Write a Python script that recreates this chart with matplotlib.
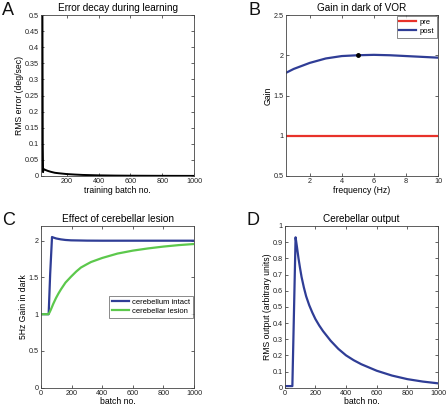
import matplotlib
matplotlib.use("Agg")
import matplotlib.pyplot as plt
from matplotlib.ticker import FormatStrFormatter

plt.rcParams['font.family'] = ['Liberation Sans', 'DejaVu Sans']

# A: error decay
err_x = [47, 49, 51, 53, 57, 65, 80, 100, 125, 150, 200, 250, 300, 400, 500, 600, 800, 1000]
err_y = [0.5, 0.1, 0.012, 0.022, 0.021, 0.019, 0.016, 0.013, 0.010, 0.0085, 0.006,
         0.0045, 0.0033, 0.002, 0.0013, 0.0009, 0.0005, 0.0003]

# B: gain in dark vs frequency
freq = [0.5, 1, 2, 3, 4, 5, 6, 7, 8, 9, 10]
gain_pre = [1.0] * len(freq)
gain_post = [1.78, 1.83, 1.905, 1.96, 1.99, 2.0, 2.005, 2.0, 1.99, 1.98, 1.97]
probe_freq = [5]
probe_gain = [2.0]

# C: effect of cerebellar lesion
intact_x = [0, 50, 60, 72, 85, 100, 130, 160, 196, 250, 300, 400, 600, 800, 1000]
intact_y = [1.0, 1.0, 1.55, 2.05, 2.04, 2.03, 2.018, 2.01, 2.005, 2.003, 2.001, 2.0, 2.0, 2.0, 2.0]
lesion_x = [0, 48, 55, 65, 80, 98, 115, 131, 160, 196, 230, 261, 300, 327, 400, 500, 600, 700,
            800, 900, 1000]
lesion_y = [1.0, 1.0, 1.02, 1.065, 1.14, 1.22, 1.285, 1.34, 1.43, 1.51, 1.58, 1.635, 1.68, 1.71,
            1.765, 1.825, 1.865, 1.895, 1.92, 1.94, 1.955]

# D: cerebellar output
out_x = [0, 50, 71, 80, 90, 100, 110, 125, 140, 160, 180, 200, 225, 250, 300, 350, 400, 450,
         500, 600, 700, 800, 900, 1000]
out_y = [0.01, 0.01, 0.93, 0.87, 0.80, 0.74, 0.685, 0.62, 0.565, 0.51, 0.465, 0.425, 0.385,
         0.35, 0.29, 0.24, 0.20, 0.17, 0.145, 0.105, 0.075, 0.053, 0.038, 0.027]

BLUE = '#2f3d96'
RED = '#e8322a'
GREEN = '#5cc84c'
W, H = 446, 405

fig = plt.figure(figsize=(4.46, 4.05), dpi=100)


def make_ax(left, top, right, bottom):
    ax = fig.add_axes([left / W, 1 - bottom / H, (right - left) / W, (bottom - top) / H])
    ax.tick_params(direction='in', top=True, right=True, labelsize=5.2, length=2,
                   width=0.5, colors='#222222', pad=1.5)
    for s in ax.spines.values():
        s.set_linewidth(0.6)
        s.set_color('#444444')
    return ax


lab = dict(fontsize=6.2, labelpad=0.5)

# A
ax = make_ax(41, 15, 194, 176)
ax.plot(err_x, err_y, color='black', lw=1.4)
ax.set_xlim(38, 1000)
ax.set_ylim(0, 0.5)
ax.set_xticks([200, 400, 600, 800, 1000])
ax.set_yticks([0, 0.05, 0.1, 0.15, 0.2, 0.25, 0.3, 0.35, 0.4, 0.45, 0.5])
ax.yaxis.set_major_formatter(FormatStrFormatter('%g'))
ax.set_title('Error decay during learning', fontsize=7.2, pad=3)
ax.set_xlabel('training batch no.', **lab)
ax.set_ylabel('RMS error (deg/sec)', **lab)

# B
ax = make_ax(285.7, 15, 438, 176)
ax.plot(freq, gain_pre, color=RED, lw=1.6, label='pre')
ax.plot(freq, gain_post, color=BLUE, lw=1.6, label='post')
ax.plot(probe_freq, probe_gain, 'o', color='black', ms=2.5)
ax.set_xlim(0.5, 10)
ax.set_ylim(0.5, 2.5)
ax.set_xticks([2, 4, 6, 8, 10])
ax.set_yticks([0.5, 1, 1.5, 2, 2.5])
ax.yaxis.set_major_formatter(FormatStrFormatter('%g'))
ax.set_title('Gain in dark of VOR', fontsize=7.2, pad=3)
ax.set_xlabel('frequency (Hz)', **lab)
ax.set_ylabel('Gain', **lab)
leg = ax.legend(loc='upper right', fontsize=5.5, borderaxespad=0.1, fancybox=False,
                handlelength=2.2, labelspacing=0.25, borderpad=0.35, handletextpad=0.5)
leg.get_frame().set_edgecolor('#555555')
leg.get_frame().set_linewidth(0.6)

# C
ax = make_ax(41, 226, 194, 387.7)
ax.plot(intact_x, intact_y, color=BLUE, lw=1.6, label='cerebellum intact')
ax.plot(lesion_x, lesion_y, color=GREEN, lw=1.6, label='cerebellar lesion')
ax.set_xlim(0, 1000)
ax.set_ylim(0, 2.2)
ax.set_xticks([0, 200, 400, 600, 800, 1000])
ax.set_yticks([0, 0.5, 1, 1.5, 2])
ax.yaxis.set_major_formatter(FormatStrFormatter('%g'))
ax.set_title('Effect of cerebellar lesion', fontsize=7.2, pad=3)
ax.set_xlabel('batch no.', **lab)
ax.set_ylabel('5Hz Gain in dark', **lab)
leg = ax.legend(loc='center right', fontsize=5.5, borderaxespad=0.1, fancybox=False,
                handlelength=2.2, labelspacing=0.25, borderpad=0.35, handletextpad=0.5)
leg.get_frame().set_edgecolor('#555555')
leg.get_frame().set_linewidth(0.6)

# D
ax = make_ax(284.7, 226, 438, 387.7)
ax.plot(out_x, out_y, color=BLUE, lw=1.6)
ax.set_xlim(0, 1000)
ax.set_ylim(0, 1)
ax.set_xticks([0, 200, 400, 600, 800, 1000])
ax.set_yticks([0, 0.1, 0.2, 0.3, 0.4, 0.5, 0.6, 0.7, 0.8, 0.9, 1])
ax.yaxis.set_major_formatter(FormatStrFormatter('%g'))
ax.set_title('Cerebellar output', fontsize=7.2, pad=3)
ax.set_xlabel('batch no.', **lab)
ax.set_ylabel('RMS output (arbitrary units)', **lab)

# panel letters
for letter, x, y in [('A', 2, 2), ('B', 248, 2), ('C', 2, 212), ('D', 246, 212)]:
    fig.text(x / W, 1 - y / H, letter, fontsize=13, va='top', ha='left',
             fontweight='light', color='#111111')

fig.savefig('out.png', dpi=100)
